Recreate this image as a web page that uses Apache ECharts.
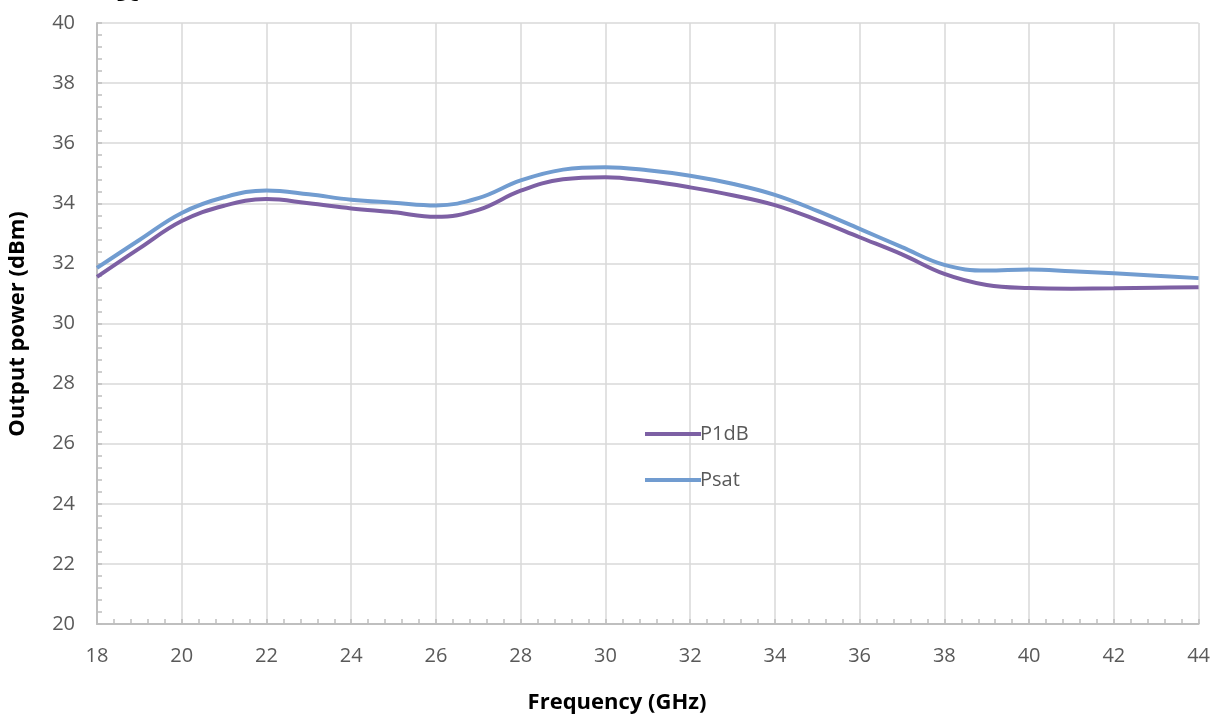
<!DOCTYPE html>
<html><head><meta charset="utf-8">
<script src="https://cdn.jsdelivr.net/npm/echarts@6/dist/echarts.min.js"></script>
<style>html,body{margin:0;padding:0;background:#fff}#c{width:1213px;height:715px}</style>
</head><body><div id="c"></div>
<script>
const freq = [18,19,20,21,22,23,24,25,26,27,28,29,30,31,32,33,34,35,36,37,38,39,40,41,42,43,44];
const p1dB = [31.55,32.50,33.41,33.92,34.14,34.00,33.83,33.70,33.55,33.78,34.42,34.80,34.87,34.74,34.53,34.27,33.94,33.44,32.87,32.30,31.65,31.28,31.18,31.16,31.17,31.19,31.21];
const psat = [31.85,32.78,33.68,34.20,34.43,34.30,34.12,34.02,33.93,34.17,34.76,35.12,35.20,35.10,34.92,34.65,34.28,33.75,33.15,32.54,31.95,31.76,31.80,31.74,31.67,31.59,31.51];
const xTicks = {min:18, max:44, interval:2};
const yTicks = {min:20, max:40, interval:2};

const chart = echarts.init(document.getElementById('c'));
const font = '"Open Sans", "Liberation Sans", sans-serif';
const pair = a => freq.map((f,i)=>[f,a[i]]);
const tickStyle = {color:'#BFBFBF',width:1.5};
chart.setOption({
  animation:false,
  grid:{left:97,right:13,top:23,bottom:91,containLabel:false},
  legend:{
    orient:'vertical', left:640, top:419, itemGap:26,
    itemWidth:56, itemHeight:4, icon:'rect',
    textStyle:{fontFamily:font,fontSize:20,color:'#595959',padding:[0,0,0,-6]},
    data:['P1dB','Psat']
  },
  xAxis:{
    type:'value', min:xTicks.min, max:xTicks.max, interval:xTicks.interval,
    axisLine:{show:true,lineStyle:{color:'#BFBFBF',width:2}},
    axisTick:{show:true,inside:true,length:5,lineStyle:tickStyle},
    minorTick:{show:true,splitNumber:5,length:5,lineStyle:tickStyle},
    axisLabel:{fontFamily:font,fontSize:20,color:'#595959',margin:22},
    splitLine:{show:true,lineStyle:{color:'#D9D9D9',width:1.5}}
  },
  yAxis:{
    type:'value', min:yTicks.min, max:yTicks.max, interval:yTicks.interval,
    axisLine:{show:true,lineStyle:{color:'#BFBFBF',width:2}},
    axisTick:{show:true,inside:true,length:5,lineStyle:tickStyle},
    minorTick:{show:true,splitNumber:5,length:5,lineStyle:tickStyle},
    axisLabel:{fontFamily:font,fontSize:20,color:'#595959',margin:22},
    splitLine:{show:true,lineStyle:{color:'#D9D9D9',width:1.5}}
  },
  series:[
    {name:'P1dB',type:'line',smooth:0.4,showSymbol:false,data:pair(p1dB),
     itemStyle:{color:'#7D60A4'},lineStyle:{color:'#7D60A4',width:4}},
    {name:'Psat',type:'line',smooth:0.4,showSymbol:false,data:pair(psat),
     itemStyle:{color:'#719CD0'},lineStyle:{color:'#719CD0',width:4}}
  ],
  graphic:[
    {type:'text',left:116,top:-12,style:{text:'DC',fontFamily:font,fontSize:17,fill:'#000'}},
    {type:'text',x:617,y:703,style:{text:'Frequency (GHz)',fontFamily:font,fontSize:22,fontWeight:'bold',fill:'#000',align:'center',verticalAlign:'middle'}},
    {type:'text',x:18,y:324,rotation:Math.PI/2,style:{text:'Output power (dBm)',fontFamily:font,fontSize:22,fontWeight:'bold',fill:'#000',align:'center',verticalAlign:'middle'}}
  ]
});
</script></body></html>
